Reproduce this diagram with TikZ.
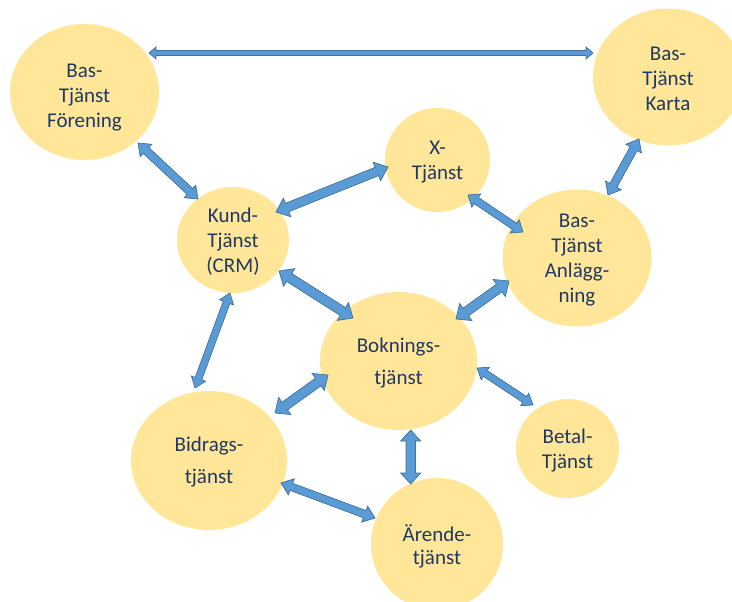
\documentclass[tikz,border=0pt]{standalone}
\usepackage{fontspec}
\setmainfont{Carlito}
\usetikzlibrary{shapes.geometric,calc}

\definecolor{bubblefill}{HTML}{FFE699}
\definecolor{labeltext}{HTML}{203864}
\definecolor{arrowfill}{HTML}{5B9BD5}
\definecolor{arrowline}{HTML}{41719C}

\tikzset{
  bubble/.style={ellipse, fill=bubblefill, draw=none, inner sep=0pt},
  caption/.style={align=center, text=labeltext, inner sep=0pt, yshift=-2pt,
                  font=\fontsize{21}{25}\selectfont},
  widecaption/.style={caption, font=\fontsize{21}{32}\selectfont},
  tightcaption/.style={caption, font=\fontsize{21}{23}\selectfont},
  linkshape/.style={fill=arrowfill, draw=arrowline, line width=0.7pt, line join=miter},
}

% Double-headed block arrow between two named points.
% #1, #2: tips; #3: half shaft width; #4: half head width; #5: head length
\newcommand\linkarrow[5]{%
  \path (#1) coordinate (la) (#2) coordinate (lb);
  \path ($(la)!#5pt!(lb)$) coordinate (lha)
        ($(lb)!#5pt!(la)$) coordinate (lhb);
  \draw[linkshape] (la)
    -- ($(lha)!#4pt!90:(lb)$) -- ($(lha)!#3pt!90:(lb)$)
    -- ($(lhb)!#3pt!-90:(la)$) -- ($(lhb)!#4pt!-90:(la)$)
    -- (lb)
    -- ($(lhb)!#4pt!90:(la)$) -- ($(lhb)!#3pt!90:(la)$)
    -- ($(lha)!#3pt!-90:(lb)$) -- ($(lha)!#4pt!-90:(lb)$)
    -- cycle;
}

\begin{document}
\begin{tikzpicture}[x=1pt, y=-1pt]
  \useasboundingbox (0,0) rectangle (732,602);
  \clip (0,0) rectangle (732,602);

  % services
  \node[bubble, minimum width=149pt, minimum height=136pt] (F) at (84.5,92) {};
  \node[bubble, minimum width=150pt, minimum height=137pt] (K) at (668,77) {};
  \node[bubble, minimum width=105pt, minimum height=104pt] (X) at (437.5,160) {};
  \node[bubble, minimum width=112pt, minimum height=106pt] (C) at (233,240) {};
  \node[bubble, minimum width=149pt, minimum height=137pt] (A) at (577,258) {};
  \node[bubble, minimum width=157pt, minimum height=138pt] (B) at (398.5,361) {};
  \node[bubble, minimum width=156pt, minimum height=139pt] (D) at (209,460.5) {};
  \node[bubble, minimum width=103pt, minimum height=99pt] (P) at (567.5,448.5) {};
  \node[bubble, minimum width=132pt, minimum height=132pt] (E) at (437,544) {};

  % arrow tips, placed relative to the services they join
  \coordinate (fk1) at ($(F)+(64.5,-39)$);
  \coordinate (fk2) at ($(K)+(-75,-24)$);
  \coordinate (fc1) at ($(F)+(53.5,51)$);
  \coordinate (fc2) at ($(C)+(-35,-41)$);
  \coordinate (cx1) at ($(C)+(43,-28)$);
  \coordinate (cx2) at ($(X)+(-49.5,7)$);
  \coordinate (xa1) at ($(X)+(30.5,35)$);
  \coordinate (xa2) at ($(A)+(-54,-26)$);
  \coordinate (ka1) at ($(K)+(-29,62)$);
  \coordinate (ka2) at ($(A)+(31,-63)$);
  \coordinate (cb1) at ($(C)+(46,31)$);
  \coordinate (cb2) at ($(B)+(-45.5,-43)$);
  \coordinate (ab1) at ($(A)+(-68,23)$);
  \coordinate (ab2) at ($(B)+(57.5,-42)$);
  \coordinate (cd1) at ($(C)+(-3,53)$);
  \coordinate (cd2) at ($(D)+(-14,-72.5)$);
  \coordinate (bd1) at ($(B)+(-70.5,14)$);
  \coordinate (bd2) at ($(D)+(66,-47.5)$);
  \coordinate (bp1) at ($(B)+(78.5,7)$);
  \coordinate (bp2) at ($(P)+(-34.5,-43.5)$);
  \coordinate (be1) at ($(B)+(12.2,69)$);
  \coordinate (be2) at ($(E)+(-26.3,-60)$);
  \coordinate (de1) at ($(D)+(72,22.5)$);
  \coordinate (de2) at ($(E)+(-62,-26)$);

  % connections
  \linkarrow{fk1}{fk2}{2.5}{6}{7}
  \linkarrow{fc1}{fc2}{4}{8.5}{11}
  \linkarrow{cx1}{cx2}{4.5}{10}{12}
  \linkarrow{xa1}{xa2}{3.7}{8}{10}
  \linkarrow{ka1}{ka2}{4}{9}{11}
  \linkarrow{cb1}{cb2}{4.7}{10.5}{12}
  \linkarrow{ab1}{ab2}{4.7}{10.5}{12}
  \linkarrow{cd1}{cd2}{3.5}{7.5}{10}
  \linkarrow{bd1}{bd2}{4.7}{10.5}{12}
  \linkarrow{bp1}{bp2}{3.5}{7.5}{10}
  \linkarrow{be1}{be2}{4.7}{10}{11}
  \linkarrow{de1}{de2}{3.8}{8.5}{11}

  % labels
  \node[caption] (Ft) at ($(F)+(0,4)$) {Bas-\\Tjänst\\Förening};
  \node[caption] (Kt) at (K) {Bas-\\Tjänst\\Karta};
  \node[caption] (Xt) at (X) {X-\\Tjänst};
  \node[caption] (Ct) at (C) {Kund-\\Tjänst\\(CRM)};
  \node[caption] (At) at (A) {Bas-\\Tjänst\\Anlägg-\\ning};
  \node[widecaption] (Bt) at (B) {Boknings-\\tjänst};
  \node[widecaption] (Dt) at (D) {Bidrags-\\tjänst};
  \node[caption] (Pt) at (P) {Betal-\\Tjänst};
  \node[tightcaption] (Et) at (E) {Ärende-\\tjänst};
\end{tikzpicture}
\end{document}
